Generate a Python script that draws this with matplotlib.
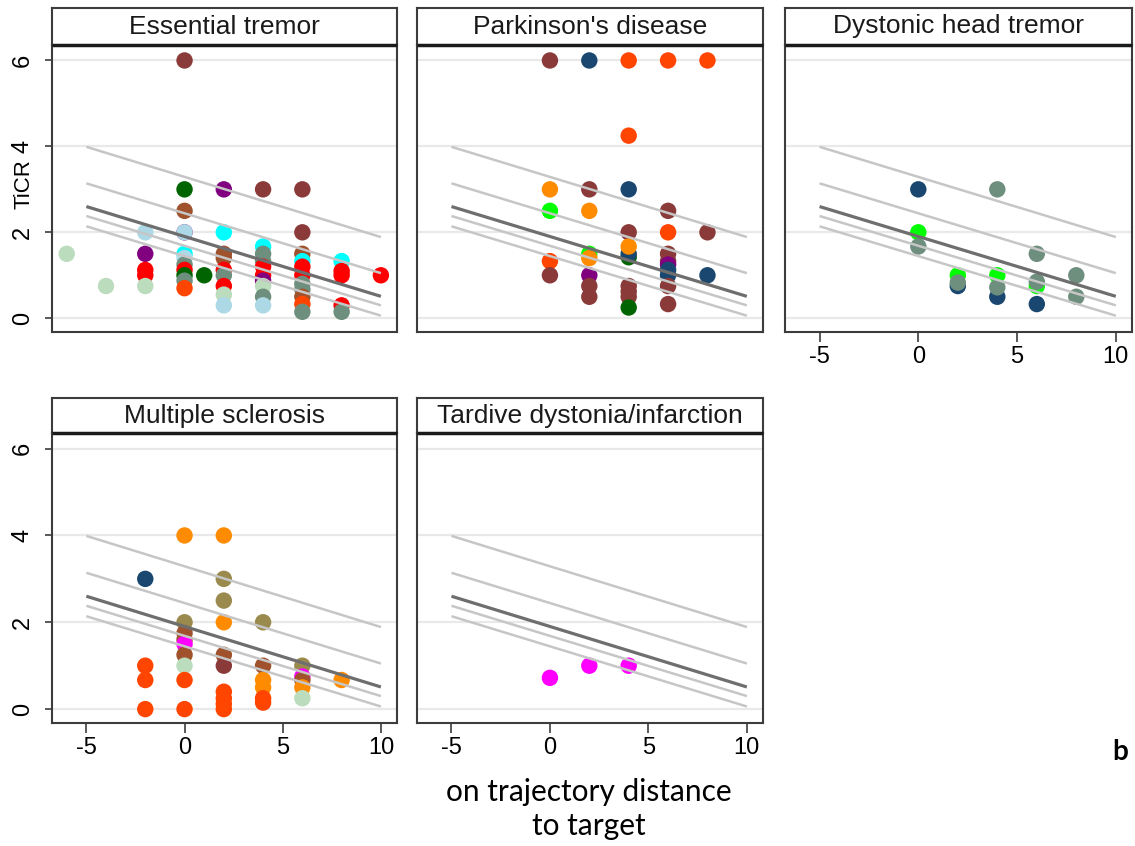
import matplotlib
matplotlib.use("Agg")
import matplotlib.pyplot as plt
import matplotlib.transforms as mtransforms

plt.rcParams['font.family'] = ['Liberation Sans', 'DejaVu Sans']

# ---------------- data ----------------
panel_titles = ["Essential tremor", "Parkinson's disease", "Dystonic head tremor",
                "Multiple sclerosis", "Tardive dystonia/infarction"]

palette = {
    'maroon': '#8b3a3a', 'navy': '#1a476f', 'orangered': '#ff4500',
    'orange': '#ff8c00', 'lime': '#00ff00', 'darkgreen': '#006400',
    'purple': '#800080', 'cyan': '#00ffff', 'red': '#ff0000',
    'lightblue': '#add8e6', 'pale': '#bcdcbe', 'graygreen': '#6e8e7e',
    'sienna': '#a0522d', 'olive': '#9a8a4e', 'magenta': '#ff00ff',
}

et_x = [-6, -4,
        -2, -2, -2, -2, -2,
        0, 0, 0, 0, 0, 0, 0, 0, 0, 0, 0, 0,
        1,
        2, 2, 2, 2, 2, 2, 2, 2, 2,
        4, 4, 4, 4, 4, 4, 4, 4, 4, 4,
        6, 6, 6, 6, 6, 6, 6, 6, 6, 6, 6,
        8, 8, 8, 8, 8,
        10]
et_y = [1.5, 0.75,
        2.0, 1.5, 1.125, 1.0, 0.75,
        6.0, 3.0, 2.5, 2.0, 1.5, 1.4, 1.25, 1.125, 1.0, 0.875, 0.7, 2.0,
        1.0,
        3.0, 2.0, 1.5, 1.4, 1.125, 1.0, 0.75, 0.55, 0.3,
        3.0, 1.67, 1.5, 1.33, 1.2, 1.0, 0.875, 0.75, 0.5, 0.3,
        3.0, 2.0, 1.5, 1.33, 1.2, 1.0, 0.8, 0.67, 0.5, 0.33, 0.15,
        1.33, 1.1, 1.0, 0.3, 0.15,
        1.0]
et_c = ['pale', 'pale',
        'lightblue', 'purple', 'red', 'red', 'pale',
        'maroon', 'darkgreen', 'sienna', 'purple', 'cyan', 'lightblue', 'graygreen', 'red', 'darkgreen', 'graygreen', 'orangered', 'lightblue',
        'darkgreen',
        'purple', 'cyan', 'sienna', 'sienna', 'red', 'graygreen', 'red', 'pale', 'lightblue',
        'maroon', 'cyan', 'graygreen', 'graygreen', 'red', 'red', 'purple', 'pale', 'graygreen', 'lightblue',
        'maroon', 'maroon', 'sienna', 'cyan', 'red', 'red', 'graygreen', 'graygreen', 'sienna', 'orangered', 'graygreen',
        'cyan', 'red', 'red', 'red', 'graygreen',
        'red']

pd_x = [0, 0, 0, 0, 0,
        2, 2, 2, 2, 2, 2, 2, 2,
        4, 4, 4, 4, 4, 4, 4, 4, 4, 4, 4,
        6, 6, 6, 6, 6, 6, 6, 6, 6, 6,
        8, 8, 8]
pd_y = [6.0, 3.0, 2.5, 1.33, 1.0,
        6.0, 3.0, 2.5, 1.5, 1.4, 1.0, 0.75, 0.5,
        6.0, 4.25, 3.0, 2.0, 1.42, 1.5, 1.67, 0.75, 0.62, 0.5, 0.25,
        6.0, 2.5, 2.0, 1.5, 1.33, 1.25, 1.125, 1.0, 0.75, 0.33,
        6.0, 2.0, 1.0]
pd_c = ['maroon', 'orange', 'lime', 'orangered', 'maroon',
        'navy', 'maroon', 'orange', 'lime', 'orange', 'purple', 'maroon', 'maroon',
        'orangered', 'orangered', 'navy', 'maroon', 'darkgreen', 'navy', 'orange', 'maroon', 'maroon', 'maroon', 'darkgreen',
        'orangered', 'maroon', 'orangered', 'maroon', 'maroon', 'purple', 'navy', 'navy', 'maroon', 'maroon',
        'orangered', 'maroon', 'navy']

dht_x = [0, 0, 0,
         2, 2, 2,
         4, 4, 4, 4,
         6, 6, 6, 6,
         8, 8]
dht_y = [3.0, 2.0, 1.67,
         1.0, 0.75, 0.83,
         3.0, 1.0, 0.5, 0.72,
         1.5, 0.75, 0.85, 0.33,
         1.0, 0.5]
dht_c = ['navy', 'lime', 'graygreen',
         'lime', 'navy', 'graygreen',
         'graygreen', 'lime', 'navy', 'graygreen',
         'graygreen', 'lime', 'graygreen', 'navy',
         'graygreen', 'graygreen']

ms_x = [-2, -2, -2, -2,
        0, 0, 0, 0, 0, 0, 0, 0, 0,
        2, 2, 2, 2, 2, 2, 2, 2, 2, 2,
        4, 4, 4, 4, 4, 4,
        6, 6, 6, 6, 6,
        8]
ms_y = [3.0, 1.0, 0.67, 0.0,
        4.0, 2.0, 1.75, 1.6, 1.5, 1.25, 1.0, 0.67, 0.0,
        4.0, 3.0, 2.5, 2.0, 1.25, 1.0, 0.4, 0.25, 0.12, 0.0,
        2.0, 1.0, 0.67, 0.5, 0.25, 0.15,
        1.0, 0.75, 0.67, 0.5, 0.25,
        0.67]
ms_c = ['navy', 'orangered', 'orangered', 'orangered',
        'orange', 'olive', 'sienna', 'sienna', 'magenta', 'sienna', 'pale', 'orangered', 'orangered',
        'orange', 'olive', 'olive', 'orange', 'sienna', 'maroon', 'orangered', 'orangered', 'orangered', 'orangered',
        'olive', 'sienna', 'orange', 'orange', 'orangered', 'orangered',
        'olive', 'magenta', 'sienna', 'orange', 'pale',
        'orange']

td_x = [0, 2, 4]
td_y = [0.72, 1.0, 1.0]
td_c = ['magenta', 'magenta', 'magenta']

# reference lines (value at x = -5 and at x = 10)
line_x = [-5, 10]
line_fit = [2.60, 0.51]
line_bands = [[3.99, 1.89], [3.14, 1.05], [2.38, 0.30], [2.14, 0.06]]

y_ticks = [0, 2, 4, 6]
x_ticks = [-5, 0, 5, 10]

panels = [(et_x, et_y, et_c), (pd_x, pd_y, pd_c), (dht_x, dht_y, dht_c),
          (ms_x, ms_y, ms_c), (td_x, td_y, td_c)]

# ---------------- layout ----------------
W, H = 1135, 846
fig = plt.figure(figsize=(W / 100, H / 100), dpi=100)

col_px = [(52, 397), (417, 763), (785, 1132)]
row_px = [(8, 45, 332), (398, 433, 723)]  # strip top, strip bottom/axes top, axes bottom

frame_col = '#3c3c3c'

for i, (xs, ys, cs) in enumerate(panels):
    r, c = divmod(i, 3)
    l, rr = col_px[c]
    st, at, ab = row_px[r]
    ax = fig.add_axes([l / W, 1 - ab / H, (rr - l) / W, (ab - at) / H])
    sx = fig.add_axes([l / W, 1 - at / H, (rr - l) / W, (at - st) / H])

    ax.set_xlim(-6.75, 10.82)
    ax.set_ylim(-0.32, 6.36)

    for yt in y_ticks:
        ax.axhline(yt, color='#e9e9e9', lw=1.6, zorder=1)

    ax.scatter(xs, ys, s=140, c=[palette[k] for k in cs], linewidths=0, zorder=2)

    for band in line_bands:
        ax.plot(line_x, band, color='#c6c6c6', lw=1.8, zorder=3, solid_capstyle='butt')
    ax.plot(line_x, line_fit, color='#6e6e6e', lw=2.3, zorder=4, solid_capstyle='butt')

    for sp in ax.spines.values():
        sp.set_color(frame_col)
        sp.set_linewidth(1.5)

    # y ticks only on first column
    if c == 0:
        ax.set_yticks(y_ticks)
        ax.set_yticklabels([str(v) for v in y_ticks], rotation=90, va='center')
        ax.tick_params(axis='y', length=5, width=1.2, color=frame_col, pad=8, labelsize=17)
    else:
        ax.set_yticks([])
    # x ticks on the bottom-most panel of each column
    if i in (2, 3, 4):
        ax.set_xticks(x_ticks)
        ax.set_xticklabels([str(v) for v in x_ticks])
        ax.tick_params(axis='x', length=7, width=1.2, color=frame_col, pad=3, labelsize=17)
    else:
        ax.set_xticks([])

    # strip
    sx.set_xticks([])
    sx.set_yticks([])
    sx.set_facecolor('white')
    for name, sp in sx.spines.items():
        sp.set_color(frame_col)
        sp.set_linewidth(1.5)
    sx.spines['bottom'].set_color('#1a1a1a')
    sx.spines['bottom'].set_linewidth(2.5)
    sx.spines['bottom'].set_capstyle('butt')
    sx.text(0.5, 0.5, panel_titles[i], ha='center', va='center', fontsize=19,
            color='#1a1a1a', transform=sx.transAxes)

    if i == 0:
        trans = mtransforms.blended_transform_factory(ax.transAxes, ax.transData)
        ax.text(-0.081, 3.12, "TiCR", rotation=90, ha='center', va='center',
                fontsize=16, transform=trans)

fig.text(589 / W, 1 - 809 / H, "on trajectory distance\nto target", ha='center',
         va='center', multialignment='center', fontsize=21.5, family=['Lato', 'DejaVu Sans'],
         linespacing=1.3)
fig.text(1120 / W, 1 - 752 / H, "b", ha='center', va='center', fontsize=20,
         fontweight='bold', family=['Lato', 'DejaVu Sans'])

fig.savefig("out.png", dpi=100)
